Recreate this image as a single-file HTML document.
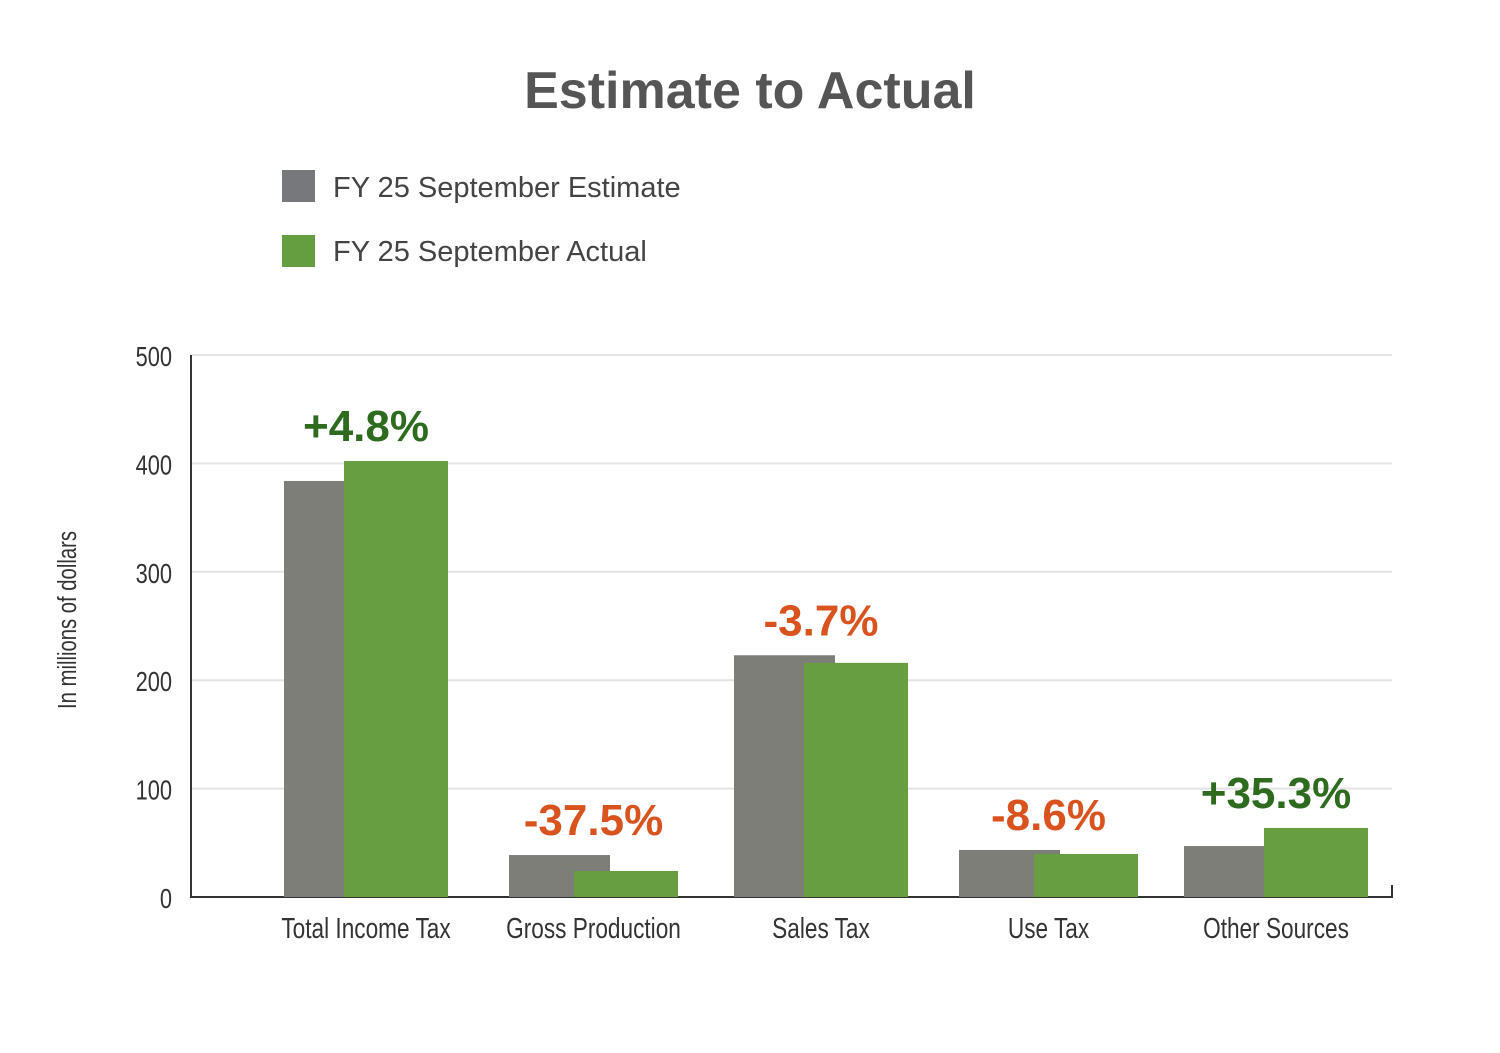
<!DOCTYPE html>
<html><head><meta charset="utf-8"><style>
body{margin:0;background:#fff;}
svg{display:block;font-family:"Liberation Sans",sans-serif;}
</style></head><body>
<svg id="chart" width="1500" height="1053" viewBox="0 0 1500 1053">
<text x="750" y="108" text-anchor="middle" font-size="52" font-weight="bold" fill="#555">Estimate to Actual</text>
<g>
<rect x="282" y="170" width="33" height="32" fill="#77787b"/>
<text x="333" y="197" font-size="29" fill="#444">FY 25 September Estimate</text>
<rect x="282" y="235" width="33" height="32" fill="#659d41"/>
<text x="333" y="261" font-size="29" fill="#444">FY 25 September Actual</text>
</g>
<text transform="translate(76,620) rotate(-90) scale(0.78,1)" text-anchor="middle" font-size="26" fill="#333">In millions of dollars</text>
<g id="grid"></g><g id="bars"></g><g id="labels"></g>
</svg>
<script>
const categories=["Total Income Tax","Gross Production","Sales Tax","Use Tax","Other Sources"];
const estimate=[383.8,38.7,223,43.4,47];
const actual=[402.2,24,216,39.7,63.7];
const changeLabels=["+4.8%","-37.5%","-3.7%","-8.6%","+35.3%"];
const yTicks=[0,100,200,300,400,500];
const NS="http://www.w3.org/2000/svg";
const y0=897,yTop=355,yMax=500,xL=191,xR=1392;
const y=v=>y0-(v/yMax)*(y0-yTop);
function mk(t,a,p){const e=document.createElementNS(NS,t);for(const k in a)e.setAttribute(k,a[k]);p.appendChild(e);return e;}
const grid=document.getElementById('grid'),bars=document.getElementById('bars'),labels=document.getElementById('labels');
yTicks.forEach(t=>{
 if(t>0){const l=mk('line',{x1:xL,x2:xR,y1:y(t),y2:y(t),stroke:'#e4e4e4','stroke-width':2},grid);
 
 }
 const tx=mk('text',{transform:`translate(172,${y(t)+11}) scale(0.78,1)`,'text-anchor':'end','font-size':28,fill:'#333'},grid);
 tx.textContent=t;
 
 
});
const ax=mk('path',{d:`M${xL} ${yTop} V${y0} H${xR} V${y0-12}`,fill:'none',stroke:'#333','stroke-width':2},grid);


categories.forEach((c,i)=>{
 const left=284+225*i,off=60+5*i,w=104;
 const e=mk('rect',{x:left,y:y(estimate[i]),width:101,height:y0-y(estimate[i]),fill:'#7d7e78'},bars);
 
 
 const a=mk('rect',{x:left+off,y:y(actual[i]),width:w,height:y0-y(actual[i]),fill:'#679e42'},bars);
 
 
 const cx=left+(off+w)/2;
 const top=Math.min(y(estimate[i]),y(actual[i]));
 const pos=changeLabels[i][0]==='+';
 const lt=mk('text',{x:cx,y:top-20,'text-anchor':'middle','font-size':44,'font-weight':'bold',fill:pos?'#2e6b1f':'#d9531e'},labels);
 lt.textContent=changeLabels[i];
 
 
 const ct=mk('text',{transform:`translate(${cx},938) scale(0.78,1)`,'text-anchor':'middle','font-size':29,fill:'#333'},labels);
 ct.textContent=c;
 
 
});
</script>
</body></html>
